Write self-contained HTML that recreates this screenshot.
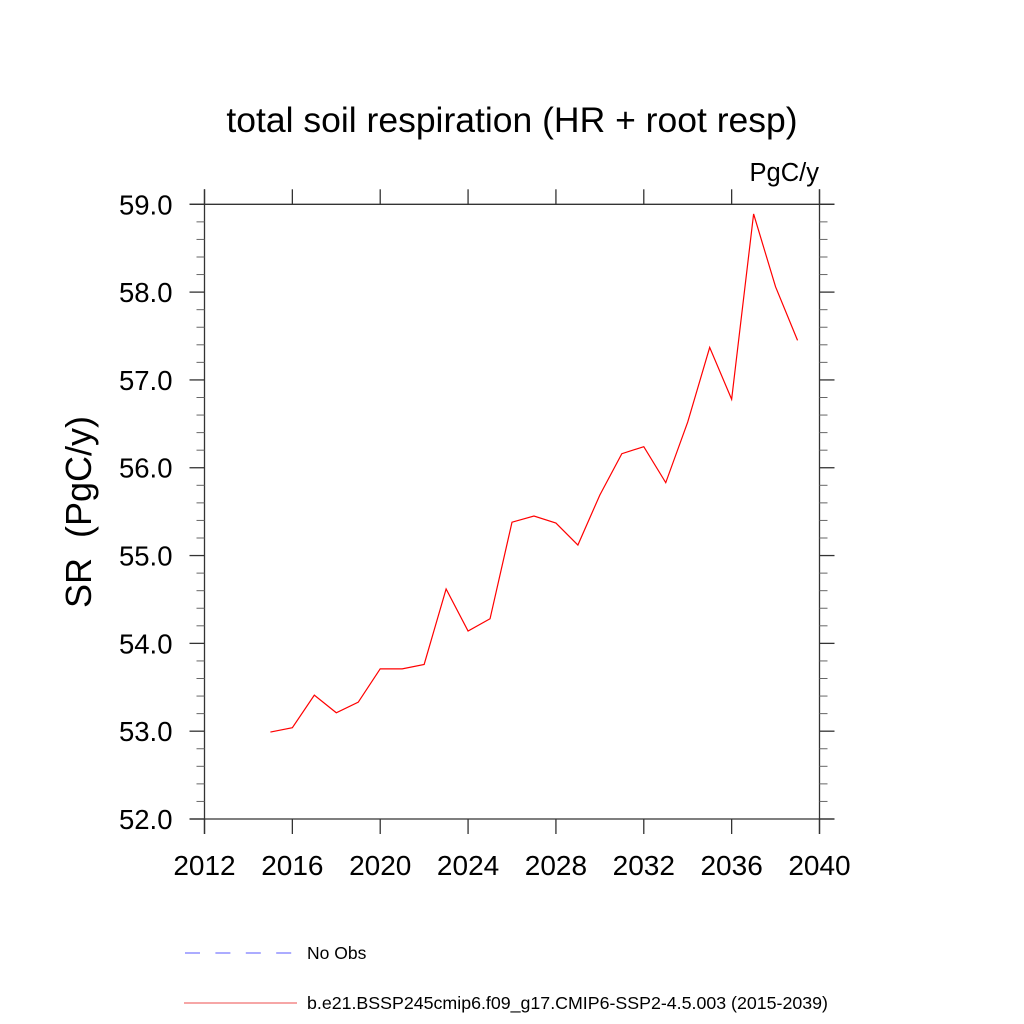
<!DOCTYPE html>
<html><head><meta charset="utf-8"><style>
html,body{margin:0;padding:0;background:#fff;}
svg{display:block;font-family:"Liberation Sans",sans-serif;}
</style></head><body>
<svg id="chart" width="1024" height="1024" viewBox="0 0 1024 1024">
<text x="512" y="132" font-size="35.5" text-anchor="middle">total soil respiration (HR + root resp)</text>
<text x="819" y="181" font-size="25.5" text-anchor="end">PgC/y</text>
<text transform="translate(91,512) rotate(-90)" font-size="36" text-anchor="middle" xml:space="preserve" style="white-space:pre">SR  (PgC/y)</text>
<g id="axes"></g>
<g id="series"></g>
<g>
<line x1="185" y1="953" x2="292" y2="953" stroke="#7a7aff" stroke-width="1.2" stroke-dasharray="15,15.4"/>
<text x="307" y="959" font-size="17.5">No Obs</text>
<line x1="184" y1="1003" x2="297" y2="1003" stroke="#f07070" stroke-width="1.2"/>
<text x="307" y="1009" font-size="17.8">b.e21.BSSP245cmip6.f09_g17.CMIP6-SSP2-4.5.003 (2015-2039)</text>
</g>
</svg>
<script>
const years = [2015,2016,2017,2018,2019,2020,2021,2022,2023,2024,2025,2026,2027,2028,2029,2030,2031,2032,2033,2034,2035,2036,2037,2038,2039];
const srValues = [52.99,53.04,53.41,53.21,53.33,53.71,53.71,53.76,54.62,54.14,54.28,55.38,55.45,55.37,55.12,55.69,56.16,56.24,55.83,56.52,57.37,56.78,58.89,58.06,57.45];
const xTicks = [2012,2016,2020,2024,2028,2032,2036,2040];
const yTicks = [52,53,54,55,56,57,58,59];
const yTickLabels = ["52.0","53.0","54.0","55.0","56.0","57.0","58.0","59.0"];

const NS = "http://www.w3.org/2000/svg";
const L=204.5, R=819.5, T=204.3, B=819;
const xMin=2012, xMax=2040, yMin=52, yMax=59;
const xs = v => L + (v-xMin)/(xMax-xMin)*(R-L);
const ys = v => B - (v-yMin)/(yMax-yMin)*(B-T);
function mk(tag, attrs, parent){const e=document.createElementNS(NS,tag);for(const k in attrs)e.setAttribute(k,attrs[k]);parent.appendChild(e);return e;}
const ax=document.getElementById('axes');
const st={stroke:"#333","stroke-width":1.3};
let e;
e=mk('line',{x1:L-15,y1:T,x2:R+15,y2:T,...st},ax);


e=mk('line',{x1:L-15,y1:B,x2:R+15,y2:B,...st},ax);


e=mk('line',{x1:L,y1:T-15,x2:L,y2:B+15,...st},ax);


e=mk('line',{x1:R,y1:T-15,x2:R,y2:B+15,...st},ax);


xTicks.forEach(t=>{
  const x=xs(t);
  e=mk('line',{x1:x,y1:B,x2:x,y2:B+15,...st},ax);
  
  
  e=mk('line',{x1:x,y1:T,x2:x,y2:T-15,...st},ax);
  
  
  e=mk('text',{x:x,y:B+56,"font-size":28,"text-anchor":"middle"},ax);
  e.textContent=t;
  
  
});
yTicks.forEach((t,i)=>{
  const y=ys(t);
  e=mk('line',{x1:L-15,y1:y,x2:L,y2:y,...st},ax);
  
  
  e=mk('line',{x1:R,y1:y,x2:R+15,y2:y,...st},ax);
  
  
  e=mk('text',{x:L-32,y:y+10,"font-size":27.5,"text-anchor":"end"},ax);
  e.textContent=yTickLabels[i];
  
  
  if(i<yTicks.length-1){
    for(let k=1;k<5;k++){
      const ym=ys(t+k*0.2);
      e=mk('line',{x1:L-8,y1:ym,x2:L,y2:ym,stroke:"#666","stroke-width":1},ax);
      
      
      e=mk('line',{x1:R,y1:ym,x2:R+8,y2:ym,stroke:"#666","stroke-width":1},ax);
      
      
    }
  }
});
const pts=years.map((yr,i)=>xs(yr).toFixed(2)+","+ys(srValues[i]).toFixed(2)).join(" ");
e=mk('polyline',{points:pts,fill:"none",stroke:"#ff0000","stroke-width":1.2},document.getElementById('series'));


</script>
</body></html>
